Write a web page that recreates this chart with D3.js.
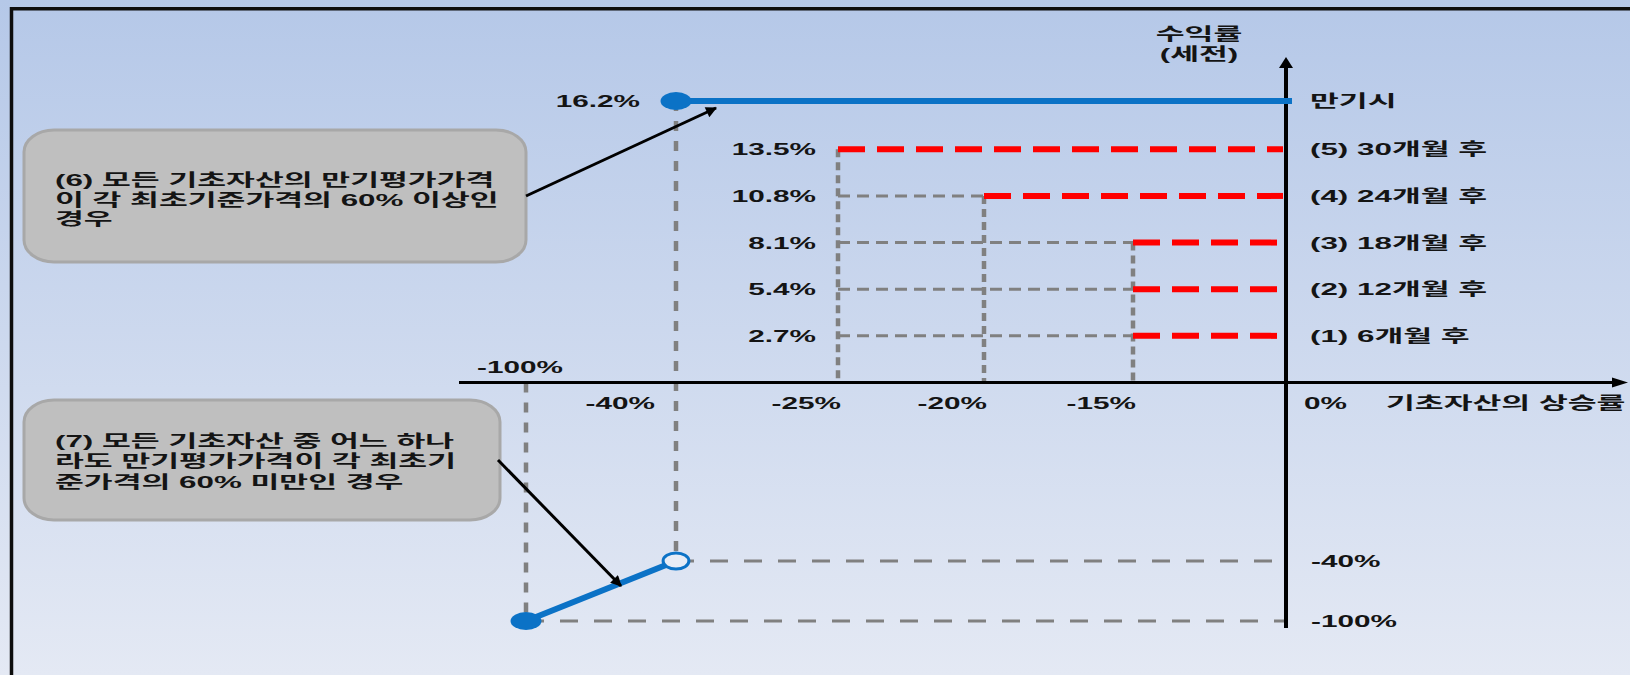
<!DOCTYPE html>
<html>
<head>
<meta charset="utf-8">
<script src="https://cdn.jsdelivr.net/npm/d3@7"></script>
<style>
  html, body { margin: 0; padding: 0; background: #cfdbef; }
  svg { display: block; }
</style>
</head>
<body>
<svg id="chart" width="1630" height="675"></svg>
<script>
// ---- data ----
const redemptionDates = ["(1) 6개월 후", "(2) 12개월 후", "(3) 18개월 후", "(4) 24개월 후", "(5) 30개월 후"];
const redemptionReturns = [2.7, 5.4, 8.1, 10.8, 13.5];      // 수익률 (세전, %)
const redemptionBarriers = [-15, -15, -15, -20, -25];        // 기초자산 하락 한도 (%)
const maturityLabel = "만기시";
const maturityReturn = 16.2;
const maturityBarrier = -40;
const lossSegment = [{ x: -100, y: -100 }, { x: -40, y: -40 }];
const xTickValues = [-100, -40, -25, -20, -15, 0];
const xTickLabels = ["-100%", "-40%", "-25%", "-20%", "-15%", "0%"];
const yLossValues = [-40, -100];
const yLossLabels = ["-40%", "-100%"];
const xAxisTitle = "기초자산의 상승률";
const yAxisTitle = ["수익률", "(세전)"];
const note6 = ["(6) 모든 기초자산의 만기평가가격", "이 각 최초기준가격의 60% 이상인", "경우"];
const note7 = ["(7) 모든 기초자산 중 어느 하나", "라도 만기평가가격이 각 최초기", "준가격의 60% 미만인 경우"];

// ---- setup ----
const SX_NUM = 1.75;   // horizontal stretch for numeric labels
const SX_KOR = 1.9;    // horizontal stretch for labels with Hangul
const SX_DOT = 1.72;   // horizontal stretch for point markers
const FONT = '"Liberation Sans", "Noto Sans CJK KR", sans-serif';
const svg = d3.select("#chart");
const hasHangul = s => /[\uac00-\ud7a3]/.test(s);

// schematic (piecewise) scales
const x = d3.scaleLinear()
  .domain([-100, -40, -25, -20, -15, 0])
  .range([526, 676, 838, 984, 1133, 1286]);
const y = d3.scaleLinear()
  .domain([-100, -40, 0, 13.5, 16.2])
  .range([621, 561, 382.5, 149.3, 101]);

// background gradient
const defs = svg.append("defs");
const grad = defs.append("linearGradient").attr("id", "bg").attr("x1", 0).attr("y1", 0).attr("x2", 0).attr("y2", 1);
grad.append("stop").attr("offset", "0%").attr("stop-color", "#b5c8e8");
grad.append("stop").attr("offset", "100%").attr("stop-color", "#e4e9f4");
svg.append("rect").attr("width", 1630).attr("height", 675).attr("fill", "url(#bg)");

// arrow marker for callouts
defs.append("marker").attr("id", "head")
  .attr("viewBox", "0 0 10 10").attr("refX", 9).attr("refY", 5)
  .attr("markerUnits", "userSpaceOnUse").attr("markerWidth", 16).attr("markerHeight", 11)
  .attr("orient", "auto")
  .append("path").attr("d", "M0,0 L10,5 L0,10 z").attr("fill", "#000");

// frame
svg.append("path").attr("d", "M11.5,690 V8.7 H1640")
  .attr("fill", "none").attr("stroke", "#0d0d0d").attr("stroke-width", 3.5);

const GRAY = "#808080";
const x0 = x(0), y0 = y(0);

// ---- guide lines ----
const guides = svg.append("g");
// redemption levels: gray from the widest barrier to each barrier, vertical drops to the axis
const leftmost = x(d3.min(redemptionBarriers));
redemptionReturns.forEach((r, i) => {
  const bx = x(redemptionBarriers[i]);
  if (bx > leftmost + 1) {
    guides.append("line").attr("x1", leftmost).attr("x2", bx).attr("y1", y(r)).attr("y2", y(r))
      .attr("stroke", GRAY).attr("stroke-width", 3).attr("stroke-dasharray", "12,7");
  }
});
Array.from(new Set(redemptionBarriers)).forEach(b => {
  const top = d3.max(redemptionReturns.filter((r, i) => redemptionBarriers[i] === b));
  guides.append("line").attr("x1", x(b)).attr("x2", x(b)).attr("y1", y(top)).attr("y2", y0)
    .attr("stroke", GRAY).attr("stroke-width", 4.5).attr("stroke-dasharray", "8,5");
});
// maturity barrier drop line
guides.append("line").attr("x1", x(maturityBarrier)).attr("x2", x(maturityBarrier))
  .attr("y1", y(maturityReturn)).attr("y2", y(-40))
  .attr("stroke", GRAY).attr("stroke-width", 4.5).attr("stroke-dasharray", "10,10");
guides.append("line").attr("x1", x(-100)).attr("x2", x(-100))
  .attr("y1", y0).attr("y2", y(-100))
  .attr("stroke", GRAY).attr("stroke-width", 4.5).attr("stroke-dasharray", "10,10");
// loss levels
lossSegment.forEach(p => {
  guides.append("line").attr("x1", x(p.x)).attr("x2", x0).attr("y1", y(p.y)).attr("y2", y(p.y))
    .attr("stroke", GRAY).attr("stroke-width", 3.2).attr("stroke-dasharray", "18,16");
});

// ---- early redemption (red dashed) ----
svg.append("g").selectAll("line").data(redemptionReturns).join("line")
  .attr("x1", (d, i) => x(redemptionBarriers[i]))
  .attr("x2", x0 - 3)
  .attr("y1", d => y(d)).attr("y2", d => y(d))
  .attr("stroke", "#ff0000").attr("stroke-width", 6).attr("stroke-dasharray", "27,12");

// ---- axes ----
const axes = svg.append("g");
axes.append("line").attr("x1", 459).attr("x2", 1616).attr("y1", y0).attr("y2", y0)
  .attr("stroke", "#000").attr("stroke-width", 3);
axes.append("path").attr("d", `M1628,${y0} L1612,${y0 - 5} L1612,${y0 + 5} Z`).attr("fill", "#000");
axes.append("line").attr("x1", x0).attr("x2", x0).attr("y1", 628).attr("y2", 66)
  .attr("stroke", "#000").attr("stroke-width", 4);
axes.append("path").attr("d", `M${x0},57 L${x0 - 7},68 L${x0 + 7},68 Z`).attr("fill", "#000");

// ---- maturity payoff (blue) ----
const BLUE = "#0b72c6";
svg.append("line").attr("x1", x(maturityBarrier)).attr("x2", x0 + 6)
  .attr("y1", y(maturityReturn)).attr("y2", y(maturityReturn))
  .attr("stroke", BLUE).attr("stroke-width", 6);
svg.append("path").datum(lossSegment)
  .attr("d", d3.line().x(d => x(d.x)).y(d => y(d.y)))
  .attr("fill", "none").attr("stroke", BLUE).attr("stroke-width", 6);

const R = 9;
svg.append("ellipse").attr("cx", x(maturityBarrier)).attr("cy", y(maturityReturn))
  .attr("rx", R * SX_DOT).attr("ry", R).attr("fill", BLUE);
svg.append("ellipse").attr("cx", x(lossSegment[0].x)).attr("cy", y(lossSegment[0].y))
  .attr("rx", R * SX_DOT).attr("ry", R).attr("fill", BLUE);
svg.append("ellipse").attr("cx", x(lossSegment[1].x)).attr("cy", y(lossSegment[1].y))
  .attr("rx", 7.5 * SX_DOT).attr("ry", 8).attr("fill", "#e6ecf6")
  .attr("stroke", BLUE).attr("stroke-width", 3);

// ---- callout boxes and arrows ----
const notes = svg.append("g");
function calloutBox(x1, y1, x2, y2, ax1, ay1, ax2, ay2) {
  notes.append("rect").attr("x", x1).attr("y", y1).attr("width", x2 - x1).attr("height", y2 - y1)
    .attr("rx", 30).attr("ry", 22)
    .attr("fill", "#bfbfbf").attr("stroke", "#a8a8a8").attr("stroke-width", 3);
  notes.append("line").attr("x1", ax1).attr("y1", ay1).attr("x2", ax2).attr("y2", ay2)
    .attr("stroke", "#000").attr("stroke-width", 3).attr("marker-end", "url(#head)");
}
calloutBox(24, 130, 526, 262, 526, 196, 716, 108);
calloutBox(24, 400, 500, 520, 498, 460, 621, 586);

// ---- text ----
const txt = svg.append("g").attr("font-family", FONT).attr("font-weight", 700)
  .attr("font-size", 16.5).attr("fill", "#141414");
function label(s, px, py, anchor) {
  const kor = hasHangul(s);
  return txt.append("text")
    .attr("transform", `translate(${px},${py}) scale(${kor ? SX_KOR : SX_NUM},1)`)
    .attr("font-size", kor ? 16.5 : 17)
    .attr("text-anchor", anchor || "start")
    .attr("dominant-baseline", "central")
    .text(s);
}
function block(lines, px, py, lineGap, anchor) {
  const t = txt.append("text")
    .attr("transform", `translate(${px},${py}) scale(${SX_KOR},1)`)
    .attr("text-anchor", anchor || "start")
    .attr("dominant-baseline", "central");
  t.selectAll("tspan").data(lines).join("tspan")
    .attr("x", 0).attr("y", (d, i) => i * lineGap)
    .text(d => d);
}

// y labels (left) and period labels (right)
redemptionReturns.forEach((r, i) => {
  label(r.toFixed(1) + "%", 816, y(r), "end");
  label(redemptionDates[i], 1310, y(r), "start");
});
label(maturityReturn.toFixed(1) + "%", 640, y(maturityReturn), "end");
label(maturityLabel, 1310, y(maturityReturn), "start");
yLossValues.forEach((v, i) => label(yLossLabels[i], 1311, y(v), "start"));

// axis titles
block(yAxisTitle, 1199, 34, 20, "middle");
label(xAxisTitle, 1386, 403, "start");

// x tick labels
const tickRow = 403;
xTickValues.forEach((v, i) => {
  const s = xTickLabels[i];
  if (v === -100) label(s, x(v) - 6, 367, "middle");
  else if (v === -40) label(s, x(v) - 21, tickRow, "end");
  else if (v === 0) label(s, x(v) + 18, tickRow, "start");
  else label(s, x(v) + 3, tickRow, "end");
});

// callout texts
block(note6, 55, 180, 19.7);
block(note7, 55, 441, 20.3);
</script>
</body>
</html>
